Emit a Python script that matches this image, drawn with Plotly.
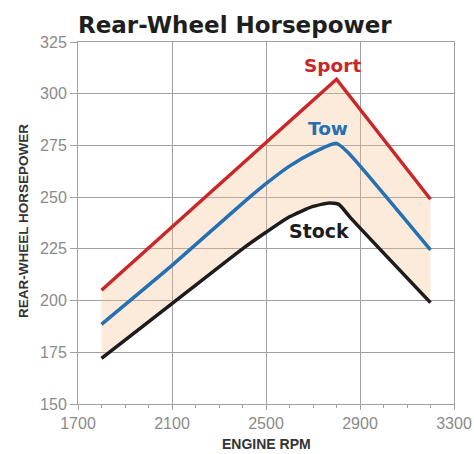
import plotly.graph_objects as go

# ---- data ----
sport_rpm = [1800, 2800, 3200]
sport_hp = [205, 307, 249]

tow_rpm = [1800, 2100, 2400, 2500, 2600, 2700, 2800, 2850, 3200]
tow_hp = [188.5, 217, 247, 256.5, 265, 271.5, 276, 271.5, 224.5]

stock_rpm = [1800, 2100, 2400, 2500, 2600, 2700, 2770, 2810, 2860, 3200]
stock_hp = [172, 198.5, 225, 233, 240.5, 245.5, 247.2, 246.5, 240, 199]

x_ticks = [1700, 2100, 2500, 2900, 3300]
y_ticks = [150, 175, 200, 225, 250, 275, 300, 325]

RED = "#c9282b"
BLUE = "#2470b2"
BLACK = "#1c1c1c"
GRID = "#a0a0a0"
FILL = "rgba(246,190,140,0.32)"

fig = go.Figure()

# shaded band between Stock and Sport
fig.add_trace(go.Scatter(x=stock_rpm, y=stock_hp, mode="lines", line=dict(width=0, shape="spline", smoothing=0.5),
                         hoverinfo="skip", showlegend=False))
fig.add_trace(go.Scatter(x=sport_rpm, y=sport_hp, mode="lines", line=dict(width=0),
                         fill="tonexty", fillcolor=FILL, hoverinfo="skip", showlegend=False))

# lines
fig.add_trace(go.Scatter(x=stock_rpm, y=stock_hp, mode="lines", name="Stock",
                         line=dict(color=BLACK, width=3.5, shape="spline", smoothing=0.5), showlegend=False))
fig.add_trace(go.Scatter(x=tow_rpm, y=tow_hp, mode="lines", name="Tow",
                         line=dict(color=BLUE, width=3.5, shape="spline", smoothing=0.5), showlegend=False))
fig.add_trace(go.Scatter(x=sport_rpm, y=sport_hp, mode="lines", name="Sport",
                         line=dict(color=RED, width=3.5), showlegend=False))

tickfont = dict(family="Liberation Sans", size=16, color="#8a8a8a")

fig.update_xaxes(range=[1700, 3300], tickvals=x_ticks, showgrid=True, gridcolor=GRID, gridwidth=1,
                 showline=True, linecolor=GRID, linewidth=1, mirror=True, zeroline=False, automargin=False,
                 ticks="outside", ticklen=5, tickcolor=GRID, tickfont=tickfont,
                 minor=dict(dtick=100, ticks="outside", ticklen=3, tickcolor=GRID, showgrid=False))
fig.update_yaxes(range=[150, 325], tickvals=y_ticks, showgrid=True, gridcolor=GRID, gridwidth=1,
                 showline=True, linecolor=GRID, linewidth=1, mirror=True, zeroline=False, automargin=False,
                 ticks="outside", ticklen=7, tickcolor=GRID, tickfont=tickfont)

annots = [
    dict(text="Rear-Wheel Horsepower", xref="paper", yref="paper", x=0, y=1, xanchor="left", yanchor="middle",
         xshift=-2, yshift=17, showarrow=False,
         font=dict(family="DejaVu Sans", size=23, color="#1e1e1e", weight="bold")),
    dict(text="REAR-WHEEL HORSEPOWER", xref="paper", yref="paper", x=0, y=0.5, textangle=-90,
         xanchor="center", yanchor="middle", xshift=-55, yshift=2, showarrow=False,
         font=dict(family="Liberation Sans", size=13.5, color="#333333", weight="bold")),
    dict(text="ENGINE RPM", xref="paper", yref="paper", x=0.5, y=0, xanchor="center", yanchor="middle",
         yshift=-40, showarrow=False,
         font=dict(family="Liberation Sans", size=14, color="#333333", weight="bold")),
    dict(text="Sport", x=2785, y=313.8, showarrow=False,
         font=dict(family="DejaVu Sans", size=18.5, color=RED, weight="bold")),
    dict(text="Tow", x=2764, y=283.1, showarrow=False,
         font=dict(family="DejaVu Sans", size=18.5, color=BLUE, weight="bold")),
    dict(text="Stock", x=2725, y=233.5, showarrow=False,
         font=dict(family="DejaVu Sans", size=19, color=BLACK, weight="bold")),
]

fig.update_layout(width=474, height=454, margin=dict(l=78, r=20, t=42, b=50, autoexpand=False),
                  paper_bgcolor="white", plot_bgcolor="white", annotations=annots, showlegend=False)

fig.write_html("out.html", config={"displayModeBar": False},
               post_script="document.body.style.margin='0';document.body.style.padding='0';"
                           "document.documentElement.style.overflow='hidden';")
